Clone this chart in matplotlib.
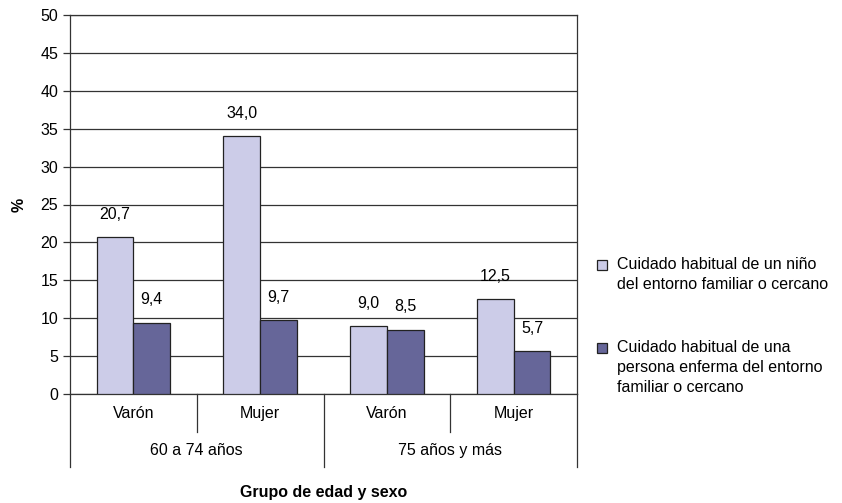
import numpy as np
import matplotlib.pyplot as plt
from matplotlib.patches import Rectangle

plt.rcParams['font.family'] = ['Liberation Sans', 'DejaVu Sans']

sexos = ['Varón', 'Mujer', 'Varón', 'Mujer']
grupos = ['60 a 74 años', '75 años y más']
nino = [20.7, 34.0, 9.0, 12.5]
enfermo = [9.4, 9.7, 8.5, 5.7]
series_labels = ['Cuidado habitual de un niño\ndel entorno familiar o cercano',
                 'Cuidado habitual de una\npersona enferma del entorno\nfamiliar o cercano']
c_light = '#CCCCE8'
c_dark = '#666699'
fs = 11.5

W, H = 842, 503
fig = plt.figure(figsize=(W/100, H/100), dpi=100)
ax = fig.add_axes([70/W, (H-394)/H, 507/W, 379/H])

x = np.arange(len(sexos))
w = 0.29
b1 = ax.bar(x - w/2, nino, w, color=c_light, edgecolor='#222222', linewidth=0.9, zorder=3)
b2 = ax.bar(x + w/2, enfermo, w, color=c_dark, edgecolor='#222222', linewidth=0.9, zorder=3)

for bars, vals in ((b1, nino), (b2, enfermo)):
    for r, v in zip(bars, vals):
        ax.annotate(f'{v:.1f}'.replace('.', ','), (r.get_x() + r.get_width()/2, v),
                    xytext=(0, 11), textcoords='offset points', ha='center', va='bottom', fontsize=fs)

ax.set_xlim(-0.5, 3.5)
ax.set_ylim(0, 50)
ax.set_yticks(np.arange(0, 51, 5))
ax.yaxis.grid(True, color='#333333', linewidth=0.9, zorder=0)
ax.set_xticks([])
ax.tick_params(axis='y', labelsize=fs, length=5, width=0.9, color='#333333')
for s in ax.spines.values():
    s.set_color('#333333')
    s.set_linewidth(0.9)
ax.set_ylabel('%', fontsize=fs, fontweight='bold', labelpad=10)

# multi-level category axis
tr = ax.get_xaxis_transform()
for xi in [-0.5, 1.5, 3.5]:
    ax.plot([xi, xi], [0, -0.1926], transform=tr, color='#333333', lw=0.9, clip_on=False)
for xi in [0.5, 2.5]:
    ax.plot([xi, xi], [0, -0.1003], transform=tr, color='#333333', lw=0.9, clip_on=False)
for xi, s in zip(x, sexos):
    ax.text(xi, -0.052, s, transform=tr, ha='center', va='center', fontsize=fs)
for gi, g in enumerate(grupos):
    ax.text(gi*2 + 0.5, -0.15, g, transform=tr, ha='center', va='center', fontsize=fs)
ax.text(1.5, -0.26, 'Grupo de edad y sexo', transform=tr, ha='center', va='center',
        fontsize=fs, fontweight='bold')

# legend, square aligned with first text line
for lab, col, ytop in zip(series_labels, [c_light, c_dark], [265, 348]):
    fig.patches.append(Rectangle((597/W, 1 - (ytop + 5)/H), 10/W, 10/H, transform=fig.transFigure,
                                 facecolor=col, edgecolor='#222222', linewidth=0.9))
    fig.text(617/W, 1 - (ytop - 8)/H, lab, ha='left', va='top', fontsize=fs, linespacing=1.42)

fig.savefig('out.png', dpi=100)
